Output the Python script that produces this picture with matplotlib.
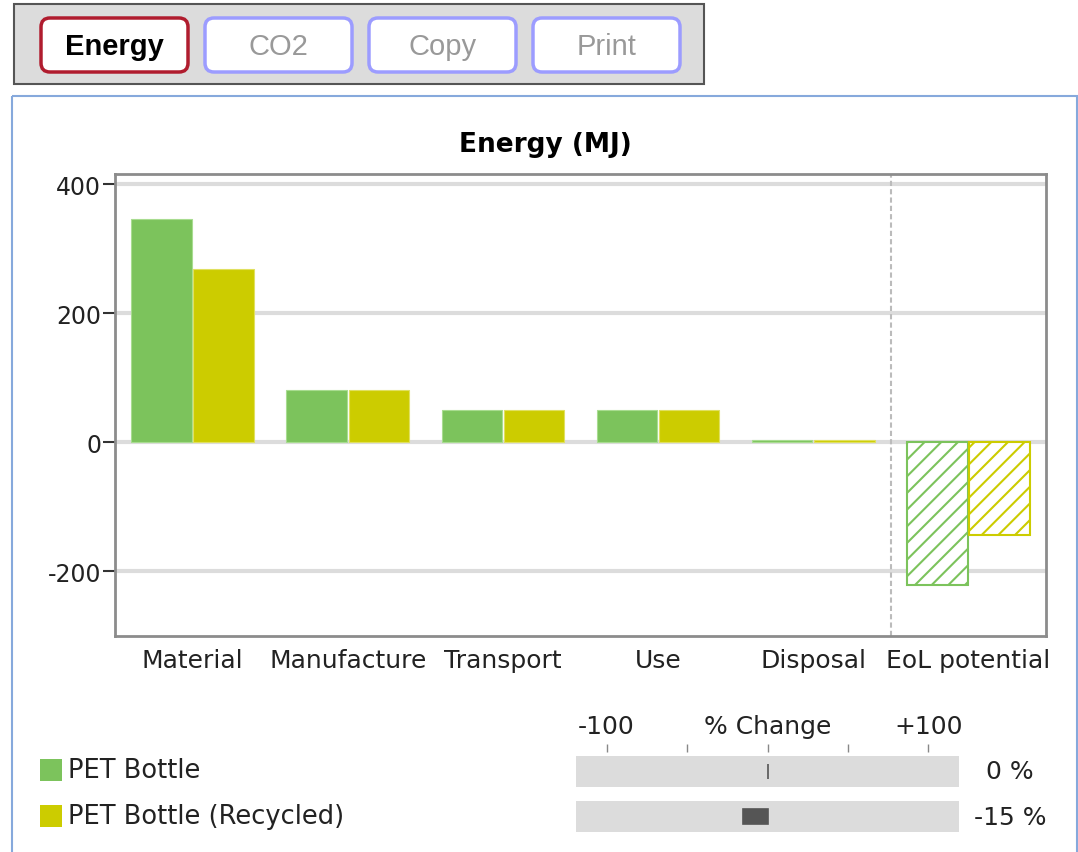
import numpy as np
import matplotlib.pyplot as plt
from matplotlib.patches import FancyBboxPatch, Rectangle
from matplotlib.transforms import blended_transform_factory

# 数据
categories = ['Material', 'Manufacture', 'Transport', 'Use', 'Disposal', 'EoL potential']
pet_bottle = [347, 82, 50, 50, 3, -221]
pet_recycled = [269, 82, 50, 50, 3, -144]
series_names = ['PET Bottle', 'PET Bottle (Recycled)']
pct_change = [0, -15]
buttons = ['Energy', 'CO2', 'Copy', 'Print']
yticks = [-200, 0, 200, 400]

green = '#7cc35c'
yellow = '#cccc00'

W, H = 1078, 853
plt.rcParams['font.family'] = ['DejaVu Sans']
plt.rcParams['hatch.linewidth'] = 1.5
plt.rcParams['axes.unicode_minus'] = False

fig = plt.figure(figsize=(W / 100, H / 100), dpi=100)


# 像素框 -> figure 坐标
def px(x0, y0, x1, y1):
    return [x0 / W, 1 - y1 / H, (x1 - x0) / W, (y1 - y0) / H]


# 背景层，像素坐标
bg = fig.add_axes([0, 0, 1, 1])
bg.set_xlim(0, W)
bg.set_ylim(H, 0)
bg.axis('off')

# 按钮栏
bg.add_patch(Rectangle((14, 5), 690, 80, facecolor='#dcdcdc', edgecolor='#555555', lw=1.5))
for i, name in enumerate(buttons):
    x0 = 41 + i * 164
    active = i == 0
    bg.add_patch(FancyBboxPatch((x0, 19), 147, 54, boxstyle='round,pad=0,rounding_size=9',
                                facecolor='white', edgecolor='#b01c2e' if active else '#9c9cff', lw=2.5))
    bg.text(x0 + 73.5, 47, name, ha='center', va='center', fontsize=21,
            family='Liberation Sans', fontweight='bold' if active else 'normal',
            color='black' if active else '#999999')

# 面板边框
bg.add_patch(Rectangle((12, 97), 1065, 800, facecolor='none', edgecolor='#86a9dc', lw=1.5))

# 标题
fig.text(545 / W, 1 - 145 / H, 'Energy (MJ)', ha='center', va='center', fontsize=19, fontweight='bold')

# 主图
ax = fig.add_axes(px(115, 175, 1046, 637))
x = np.arange(len(categories))
w = 0.39
n = len(categories) - 1
ax.bar(x[:n] - 0.2, pet_bottle[:n], w, color=green, edgecolor='#a8dc90', lw=0.8, zorder=3)
ax.bar(x[:n] + 0.2, pet_recycled[:n], w, color=yellow, edgecolor='#e0e060', lw=0.8, zorder=3)
ax.bar(x[n:] - 0.2, pet_bottle[n:], w, color='white', edgecolor=green, hatch='//', lw=1.5, zorder=3)
ax.bar(x[n:] + 0.2, pet_recycled[n:], w, color='white', edgecolor=yellow, hatch='//', lw=1.5, zorder=3)

ax.set_xlim(-0.5, len(categories) - 0.5)
ax.set_ylim(-300, 416)
ax.set_yticks(yticks)
for t in yticks:
    ax.axhline(t, color='#dcdcdc', lw=3, zorder=1)
ax.axvline(4.5, color='#bbbbbb', ls=(0, (2.5, 1.5)), lw=1.5, zorder=2)
ax.set_xticks(x)
ax.set_xticklabels(categories)
ax.tick_params(axis='x', length=0, pad=9, labelsize=18, labelcolor='#222222')
ax.tick_params(axis='y', length=9, width=1.5, pad=1, labelsize=17, labelcolor='#222222', color='#333333')
for s in ax.spines.values():
    s.set_color('#8c8c8c')
    s.set_linewidth(2)

# 图例
for i, name in enumerate(series_names):
    y0 = 760 + i * 46
    bg.add_patch(Rectangle((40, y0), 22, 22, facecolor=[green, yellow][i], edgecolor='none'))
    bg.text(68, y0 + 11, name, ha='left', va='center', fontsize=18.5, color='#222222')

# % Change
pc = fig.add_axes(px(576, 753, 959, 833))
rows = np.arange(len(pct_change))
pc.set_xlim(-119, 119)
pc.set_ylim(1.344, -0.433)
pc.barh(rows, 238, left=-119, height=0.689, color='#dcdcdc', zorder=1)
pc.barh(rows, pct_change, height=0.333, color='#555555', edgecolor='#555555', lw=1.2, zorder=2)
pc.set_xticks([-100, -50, 0, 50, 100])
pc.set_xticklabels(['-100', '', '% Change', '', '+100'])
pc.xaxis.tick_top()
pc.tick_params(axis='x', length=6, width=1, color='#888888', pad=4, labelsize=18, labelcolor='#222222')
pc.set_yticks([])
for s in pc.spines.values():
    s.set_visible(False)
tr = blended_transform_factory(pc.transAxes, pc.transData)
for r, v in zip(rows, pct_change):
    pc.text(1.133, r, f'{v} %', transform=tr, ha='center', va='center', fontsize=18, color='#222222')

fig.savefig('out.png', dpi=100)
